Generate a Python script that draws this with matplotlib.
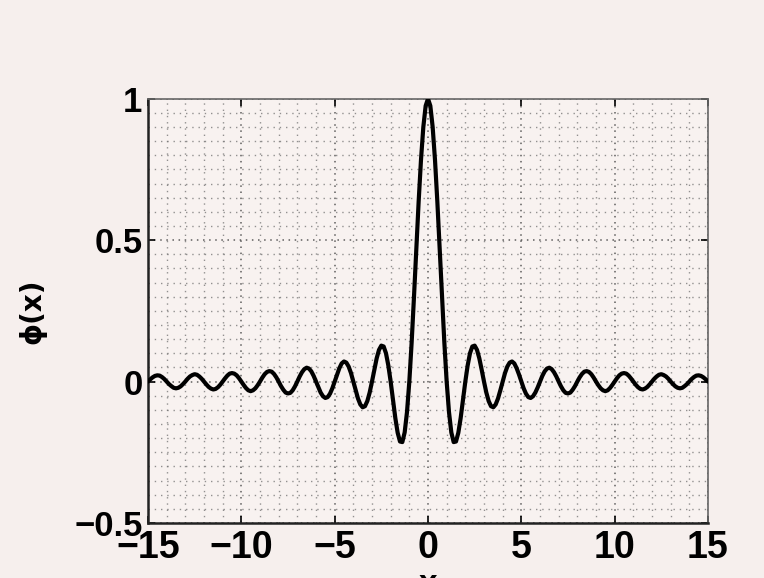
import numpy as np
import matplotlib
matplotlib.use("Agg")
import matplotlib.pyplot as plt
from matplotlib.ticker import MultipleLocator

# curve samples, right half (x >= 0, step 0.125);
# the curve is symmetric about x = 0
STEP = 0.125
PHI_RIGHT = [
    1.000, 0.975, 0.900, 0.784, 0.637, 0.471, 0.300, 0.139,
    0.000, -0.108, -0.180, -0.214, -0.212, -0.181, -0.129, -0.065,
    0.000, 0.057, 0.100, 0.124, 0.127, 0.112, 0.082, 0.042,
    0.000, -0.039, -0.069, -0.087, -0.091, -0.081, -0.060, -0.031,
    0.000, 0.030, 0.053, 0.067, 0.071, 0.064, 0.047, 0.025,
    0.000, -0.024, -0.043, -0.055, -0.058, -0.052, -0.039, -0.021,
    0.000, 0.020, 0.036, 0.046, 0.049, 0.044, 0.033, 0.018,
    0.000, -0.017, -0.031, -0.040, -0.042, -0.039, -0.029, -0.016,
    0.000, 0.015, 0.027, 0.035, 0.037, 0.034, 0.026, 0.014,
    0.000, -0.013, -0.024, -0.031, -0.034, -0.031, -0.023, -0.012,
    0.000, 0.012, 0.022, 0.028, 0.030, 0.028, 0.021, 0.011,
    0.000, -0.011, -0.020, -0.026, -0.028, -0.025, -0.019, -0.010,
    0.000, 0.010, 0.018, 0.024, 0.026, 0.023, 0.018, 0.010,
    0.000, -0.009, -0.017, -0.022, -0.024, -0.022, -0.016, -0.009,
    0.000, 0.009, 0.016, 0.021, 0.022, 0.020, 0.015, 0.008,
    0.000,
]

X_TICKS = [-15, -10, -5, 0, 5, 10, 15]
X_TICK_LABELS = ["\u221215", "\u221210", "\u22125", "0", "5", "10", "15"]
Y_TICKS = [-0.5, 0, 0.5, 1]
Y_TICK_LABELS = ["\u22120.5", "0", "0.5", "1"]

x_right = np.arange(len(PHI_RIGHT)) * STEP
x = np.concatenate([-x_right[:0:-1], x_right])
phi = np.concatenate([np.array(PHI_RIGHT[:0:-1]), np.array(PHI_RIGHT)])

BG = "#f6efed"
plt.rcParams["font.family"] = ["Liberation Sans", "DejaVu Sans"]

fig = plt.figure(figsize=(7.64, 5.78), dpi=100, facecolor=BG)
ax = fig.add_axes([0.1937, 0.0952, 0.7330, 0.7340])
ax.set_facecolor("#f8f2f0")

ax.plot(x, phi, color="black", lw=3.0, solid_joinstyle="round",
        solid_capstyle="round", zorder=3)

ax.set_xlim(-15, 15)
ax.set_ylim(-0.5, 1)
ax.set_xticks(X_TICKS)
ax.set_xticklabels(X_TICK_LABELS)
ax.set_yticks(Y_TICKS)
ax.set_yticklabels(Y_TICK_LABELS)
ax.xaxis.set_minor_locator(MultipleLocator(1))
ax.yaxis.set_minor_locator(MultipleLocator(0.05))

# sparse dotted grid, MATLAB style
ax.grid(True, which="major", color="#444444", lw=1.1, alpha=0.85,
        dashes=(1, 3))
ax.grid(True, which="minor", color="#707070", lw=1.0, alpha=0.75,
        dashes=(1, 3.5))
ax.set_axisbelow(True)

ax.tick_params(which="major", direction="in", length=5, width=1.2,
               top=True, right=True)
ax.tick_params(axis="x", which="major", labelsize=27, pad=5)
ax.tick_params(axis="y", which="major", labelsize=25, pad=4)
ax.tick_params(which="minor", length=0)
for lab in ax.get_xticklabels() + ax.get_yticklabels():
    lab.set_fontweight("bold")

for side in ("left", "bottom"):
    ax.spines[side].set_linewidth(1.8)
    ax.spines[side].set_color("#222222")
for side in ("top", "right"):
    ax.spines[side].set_linewidth(1.2)
    ax.spines[side].set_color("#666666")

ax.set_ylabel("\u03d5(x)", fontsize=20, fontweight="bold", labelpad=20,
              family=["DejaVu Sans"])
ax.set_xlabel("x", fontsize=24, fontweight="bold", labelpad=2)

fig.savefig("out.png", dpi=100, facecolor=BG)
plt.close(fig)
